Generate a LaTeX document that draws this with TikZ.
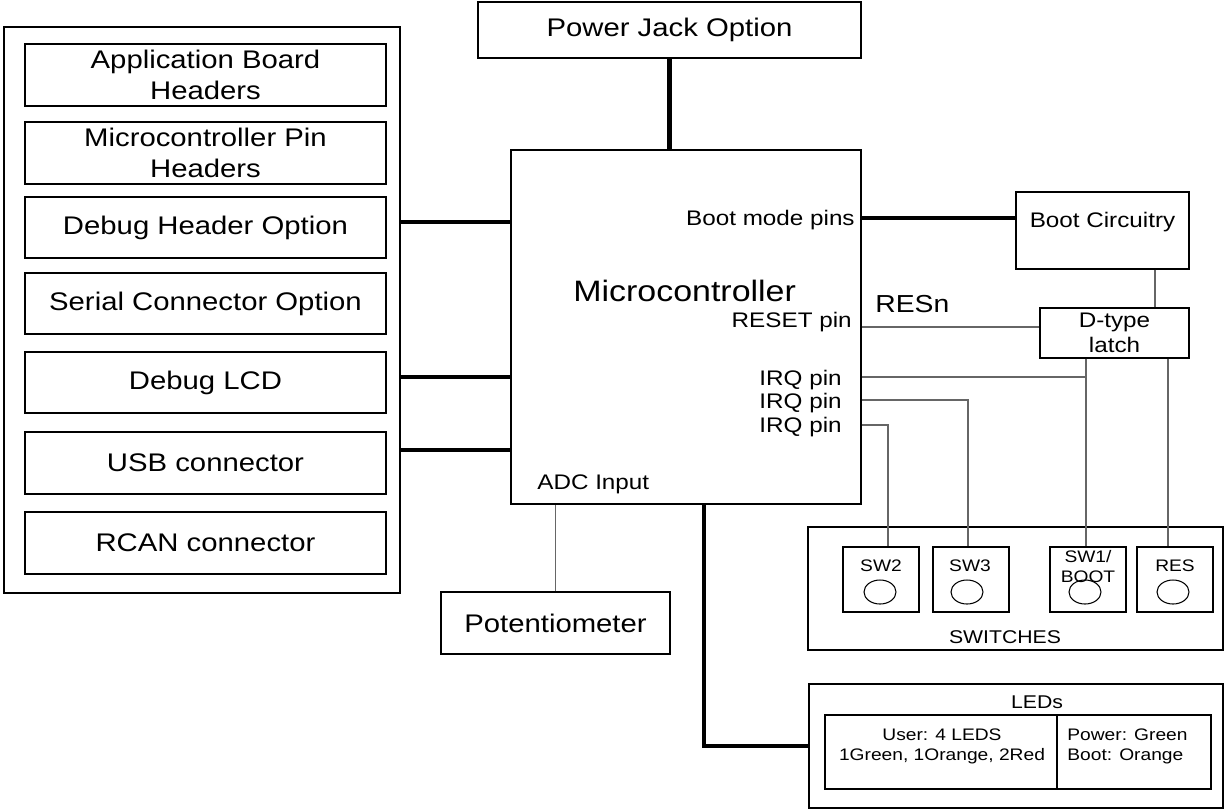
\documentclass[tikz,border=0pt]{standalone}
\usepackage{fontspec}
\setmainfont[FakeStretch=1.15]{Liberation Sans}

\tikzset{
  box/.style={draw, line width=0.8pt, align=center},
  sz/.style 2 args={minimum width=#1*0.02cm, minimum height=#2*0.02cm},
  bus/.style={line width=2.3pt},
  wire/.style={draw=black!60, line width=0.7pt},
  lbl/.style={inner sep=0pt},
  big/.style={font=\fontsize{14.5}{17.4}\selectfont},
  mid/.style={font=\fontsize{12}{14.4}\selectfont},
  small/.style={font=\fontsize{9.5}{11.4}\selectfont},
  captxt/.style={font=\fontsize{10.5}{12.6}\selectfont},
}

\begin{document}
\begin{tikzpicture}[x=0.02cm, y=-0.02cm]
\useasboundingbox (0,0) rectangle (1224,809);

% Connector panel
\node[box, sz={396}{566}] (panel) at (202,310) {};
\node[box, big, sz={361}{62}] (abh) at (205.5,75) {Application Board\\Headers};
\node[box, big, sz={361}{62}] (mph) at (205.5,153) {Microcontroller Pin\\Headers};
\node[box, big, line width=1.1pt, sz={361}{61}] (dbg) at (205.5,227.5) {Debug Header Option};
\node[box, big, sz={361}{61}] (ser) at (205.5,303.5) {Serial Connector Option};
\node[box, big, sz={361}{61}] (lcd) at (205.5,382.5) {Debug LCD};
\node[box, big, sz={361}{62}] (usb) at (205.5,463) {USB connector};
\node[box, big, sz={361}{62}] (rcan) at (205.5,543) {RCAN connector};

% Power
\node[box, big, sz={383}{56}] (pwr) at (669.5,30) {Power Jack Option};

% Microcontroller
\node[box, line width=1.1pt, sz={350}{354}] (mcu) at (686,327) {};
\node[lbl, font=\fontsize{16.8}{20}\selectfont, anchor=base west] (mcutxt) at (573,301) {Microcontroller};
\node[lbl, mid, anchor=base east] (bootpins) at (855,225) {Boot mode pins};
\node[lbl, mid, anchor=base east] (rstpin) at (852,327) {RESET pin};
\node[lbl, mid, anchor=base east] (irqa) at (842,385) {IRQ pin};
\node[lbl, mid, anchor=base east] (irqb) at (842,408) {IRQ pin};
\node[lbl, mid, anchor=base east] (irqc) at (842,432) {IRQ pin};
\node[lbl, mid, anchor=base west] (adc) at (537,489) {ADC Input};
\node[lbl, font=\fontsize{14}{16.8}\selectfont, anchor=base west] (resn) at (875,312) {RESn};

% Boot logic
\node[box, mid, sz={173}{77}, text depth=12.5pt] (boot) at (1102.5,230.5) {Boot Circuitry};
\node[box, mid, sz={149}{50}, inner sep=1pt] (latch) at (1114.5,333) {D-type\\latch};

% Potentiometer
\node[box, big, sz={229}{62}] (pot) at (555.5,623) {Potentiometer};

% Switches
\node[box, sz={415}{123}] (swpanel) at (1015.5,588.5) {};
\node[box, sz={76}{65}] (sw2) at (881,579.5) {};
\node[box, sz={76}{65}] (sw3) at (971,579.5) {};
\node[box, sz={76}{65}] (sw1) at (1088,579.5) {};
\node[box, sz={76}{65}] (res) at (1175,579.5) {};
\node[lbl, small, anchor=base] (sw2txt) at (881,571) {SW2};
\node[lbl, small, anchor=base] (sw3txt) at (970,571) {SW3};
\node[lbl, small, anchor=north, align=center] (sw1txt) at (1088,550) {SW1/\\BOOT};
\node[lbl, small, anchor=base] (restxt) at (1175,571) {RES};
\draw[line width=0.6pt] (880,592) ellipse (16 and 12);
\draw[line width=0.6pt] (967,592) ellipse (16 and 12);
\draw[line width=0.6pt] (1085,592) ellipse (16 and 12);
\draw[line width=0.6pt] (1173,592) ellipse (16 and 12);
\node[lbl, captxt, anchor=base] (swtxt) at (1005,643) {SWITCHES};

% LEDs
\node[box, sz={414}{124}] (leds) at (1016,746) {};
\node[lbl, captxt, anchor=base] (ledtxt) at (1037,708) {LEDs};
\node[box, sz={232}{74}] (user) at (941,752) {};
\node[box, sz={154}{74}] (stat) at (1134,752) {};
\node[lbl, small, anchor=north, align=center] (usertxt) at (942,728) {User: 4 LEDS\\1Green, 1Orange, 2Red};
\node[lbl, small, anchor=north west, align=left] (stattxt) at (1067,728) {Power: Green\\Boot: Orange};

% Buses
\draw[bus] (pwr.south) -- (pwr.south |- mcu.north);
\draw[bus] (panel.east |- 0,222) -- (mcu.west |- 0,222);
\draw[bus] (panel.east |- 0,377) -- (mcu.west |- 0,377);
\draw[bus] (panel.east |- 0,450) -- (mcu.west |- 0,450);
\draw[bus] (mcu.east |- 0,218) -- (boot.west |- 0,218);
\draw[bus] (mcu.south -| 704,0) |- (leds.west);

% Wires
\coordinate (sw2in) at ([xshift=0.14cm]sw2.north);
\coordinate (sw3in) at ([xshift=-0.06cm]sw3.north);
\coordinate (sw1in) at ([xshift=-0.04cm]sw1.north);
\coordinate (resin) at ([xshift=-0.14cm]res.north);
\coordinate (bootout) at ([xshift=1.05cm]boot.south);
\draw[wire] (bootout) -- (bootout |- latch.north);
\draw[wire] (mcu.east |- 0,327) -- (latch.west |- 0,327);
\draw[wire] (mcu.east |- 0,377) -- (sw1in |- 0,377);
\draw[wire] (latch.south -| sw1in) -- (sw1in);
\draw[wire] (latch.south -| resin) -- (resin);
\draw[wire] (mcu.east |- 0,400) -| (sw3in);
\draw[wire] (mcu.east |- 0,425) -| (sw2in);
\draw[wire] (pot.north) -- (pot.north |- mcu.south);

\end{tikzpicture}
\end{document}
